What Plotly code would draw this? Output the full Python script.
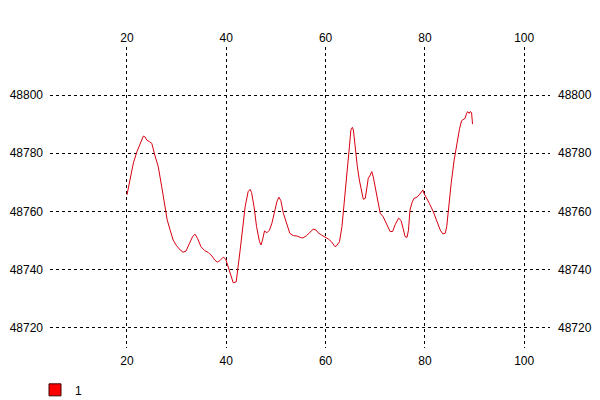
import plotly.graph_objects as go

# Series "1"
x_vals = [20.0, 20.6, 21.3, 22.0, 22.6, 23.3, 23.6, 24.0, 24.5, 25.0, 25.6, 26.3, 27.0, 27.7, 28.1,
          28.7, 29.3, 30.0, 30.7, 31.3, 31.9, 32.6, 33.2, 33.7, 34.2, 34.9, 35.7, 36.4, 37.1, 37.7,
          38.2, 38.7, 39.4, 39.9, 40.4, 40.9, 41.4, 42.0, 42.4, 42.8, 43.8, 44.4, 44.8, 45.1, 45.6,
          46.1, 46.7, 47.0, 47.3, 47.7, 48.2, 48.7, 49.2, 49.6, 50.2, 50.6, 51.0, 51.5, 52.2, 52.8,
          53.5, 54.2, 54.9, 55.4, 56.1, 56.7, 57.5, 58.1, 58.5, 59.2, 59.9, 60.6, 61.2, 61.9, 62.2,
          62.8, 63.3, 63.7, 64.1, 64.3, 64.8, 65.1, 65.4, 65.6, 65.9, 66.4, 66.8, 67.3, 67.6, 68.0,
          68.3, 68.6, 69.0, 69.3, 69.6, 70.0, 70.4, 71.0, 71.6, 72.3, 73.0, 73.5, 74.0, 74.7, 75.2,
          75.6, 76.0, 76.4, 76.7, 77.0, 77.4, 77.8, 78.4, 79.0, 79.6, 79.8, 80.2, 80.9, 81.7, 82.5,
          83.1, 83.6, 84.1, 84.4, 84.7, 85.3, 85.9, 86.4, 87.0, 87.4, 88.1, 88.4, 88.6, 88.9, 89.1,
          89.4, 89.6]
y_vals = [48765.7, 48770.8, 48776.7, 48780.5, 48782.8, 48785.9, 48785.7, 48784.5, 48784.0, 48783.4,
          48779.4, 48775.4, 48768.5, 48761.6, 48757.1, 48753.6, 48750.2, 48748.2, 48746.8, 48746.0,
          48746.4, 48749.1, 48751.3, 48752.2, 48750.8, 48747.9, 48746.5, 48745.9, 48744.7, 48743.3,
          48742.6, 48743.1, 48744.3, 48743.6, 48741.0, 48737.9, 48735.5, 48735.8, 48740.6, 48746.8,
          48761.6, 48766.8, 48767.6, 48766.5, 48761.6, 48754.8, 48749.6, 48748.5, 48750.2, 48753.3,
          48752.7, 48753.6, 48756.0, 48759.4, 48763.4, 48764.9, 48763.7, 48759.4, 48755.4, 48752.5,
          48751.7, 48751.6, 48751.1, 48750.9, 48751.6, 48752.7, 48753.9, 48753.6, 48752.7, 48751.9,
          48751.3, 48750.5, 48749.6, 48747.9, 48748.2, 48749.6, 48754.8, 48761.6, 48768.0, 48771.9,
          48782.2, 48788.0, 48788.9, 48788.0, 48782.2, 48775.4, 48770.8, 48766.2, 48764.2, 48764.5,
          48767.4, 48771.4, 48772.5, 48773.7, 48771.9, 48768.5, 48763.9, 48759.4, 48758.2, 48755.9,
          48753.1, 48753.1, 48755.4, 48757.7, 48756.9, 48754.3, 48751.4, 48751.1, 48753.6, 48760.5,
          48763.0, 48764.5, 48764.9, 48766.0, 48767.4, 48766.3, 48765.1, 48762.8, 48759.9, 48756.5,
          48753.6, 48752.3, 48752.5, 48754.8, 48760.5, 48769.7, 48777.7, 48783.4, 48788.6, 48791.2,
          48792.0, 48793.7, 48794.3, 48793.7, 48794.3, 48794.0, 48790.0]

series_name = "1"
x_ticks = [20, 40, 60, 80, 100]
y_ticks = [48720, 48740, 48760, 48780, 48800]

x_range = [4.5, 105.2]
y_range = [48713.1, 48816.5]

line_color = "#d80010"
font = dict(family="Liberation Sans, Arial, sans-serif", size=12, color="black")

fig = go.Figure()
fig.add_trace(go.Scatter(x=x_vals, y=y_vals, mode="lines",
                         line=dict(color=line_color, width=1),
                         showlegend=False, hoverinfo="skip"))
# legend swatch + secondary axes anchor
fig.add_trace(go.Bar(x=[None], y=[None], name=series_name, xaxis="x2", yaxis="y2",
                     marker=dict(color="#ff0000", line=dict(color="#400000", width=1)),
                     showlegend=True))

grid = dict(showgrid=True, gridcolor="black", griddash="3px,3px", gridwidth=1,
            zeroline=False, showline=False, ticks="", automargin=False)
plain = dict(showgrid=False, zeroline=False, showline=False, ticks="", automargin=False)

fig.update_layout(
    width=600, height=400,
    margin=dict(l=50, r=50, t=47, b=52, autoexpand=False),
    paper_bgcolor="white", plot_bgcolor="white",
    font=font,
    xaxis=dict(range=x_range, tickvals=x_ticks, side="bottom", ticklabelstandoff=4,
               tickformat="d", **grid),
    yaxis=dict(range=y_range, tickvals=y_ticks, side="left", ticklabelstandoff=6,
               tickformat="d", **grid),
    xaxis2=dict(range=x_range, tickvals=x_ticks, side="top", overlaying="x",
                ticklabelstandoff=2, tickformat="d", **plain),
    yaxis2=dict(range=y_range, tickvals=y_ticks, side="right", overlaying="y",
                ticklabelstandoff=7, tickformat="d", **plain),
    showlegend=True,
    legend=dict(x=-0.03, y=-0.139, xanchor="left", yanchor="middle",
                bgcolor="rgba(0,0,0,0)", font=font, itemwidth=30),
)

fig.write_html("out.html", config={"displayModeBar": False},
               post_script="document.body.style.margin='0';document.body.style.overflow='hidden';")
